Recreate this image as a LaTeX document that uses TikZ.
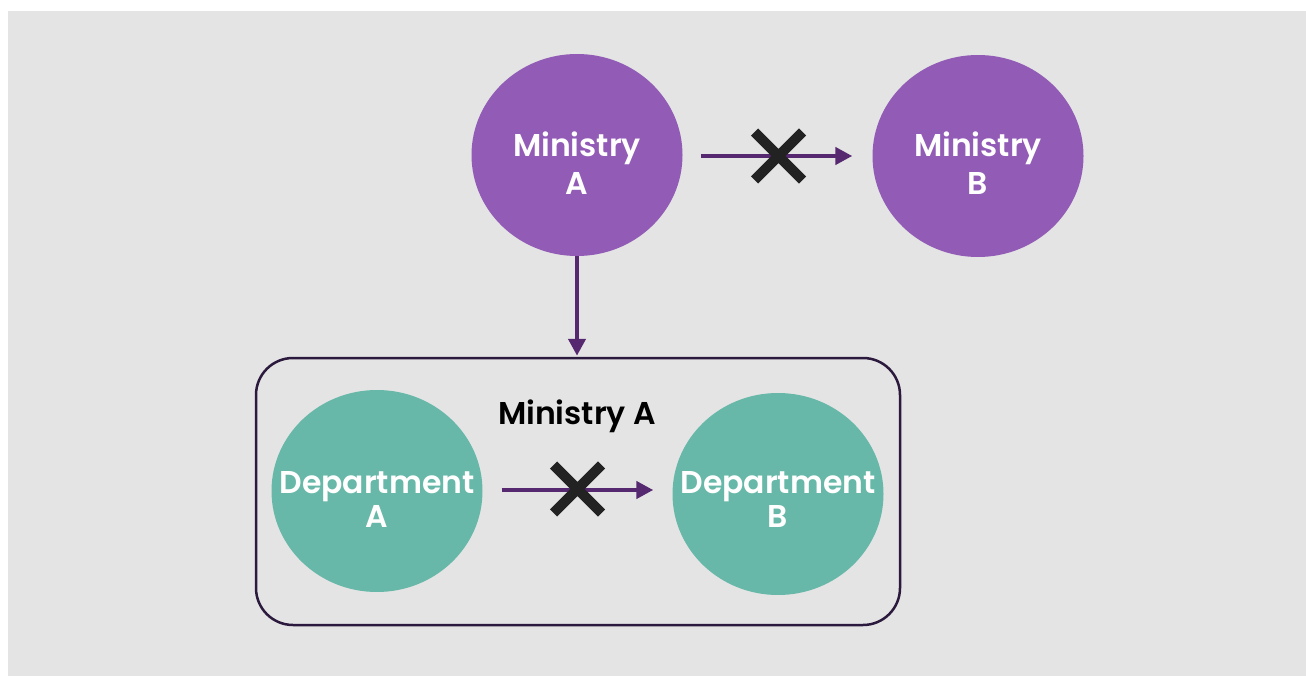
\documentclass[tikz,border=0pt]{standalone}
\usepackage{fontspec}
\setmainfont{Poppins}[BoldFont={Poppins SemiBold}]
\usetikzlibrary{shapes.geometric,arrows.meta}
\definecolor{bggray}{HTML}{E4E4E4}
\definecolor{minpurple}{HTML}{915BB6}
\definecolor{depteal}{HTML}{67B8A8}
\definecolor{arrowpurple}{HTML}{55286F}
\definecolor{boxline}{HTML}{2B1A3D}
\definecolor{xdark}{HTML}{222222}
\tikzset{
  blob/.style={ellipse, inner sep=0pt, minimum width=211pt, minimum height=202pt},
  ministry/.style={blob, fill=minpurple},
  dept/.style={blob, fill=depteal},
  mtext/.style={text=white, font=\fontsize{31.5}{38}\selectfont\bfseries, align=center, inner sep=0pt},
  dtext/.style={text=white, font=\fontsize{31.5}{34}\selectfont\bfseries, align=center, inner sep=0pt},
  conn/.style={draw=arrowpurple, line width=4.8pt, -{Triangle[length=17pt,width=17pt]}},
  xline/.style={draw=xdark, line width=10pt},
  xmark/.pic={\draw[xline] (-24,-24) -- (24,24) (-24,24) -- (24,-24);},
  group/.style={draw=boxline, line width=2.5pt, rounded corners=37pt}
}
\begin{document}
\begin{tikzpicture}[x=1pt,y=-1pt]
\useasboundingbox (0,0) rectangle (1306,676);
\fill[white] (0,0) rectangle (1306,676);
\fill[bggray] (8,11) rectangle (1306,676);
\node[ministry, label={[mtext, yshift=-8pt, name=mat]center:Ministry\\A}] (ma) at (577,155) {};
\node[ministry, label={[mtext, yshift=-7pt, name=mbt]center:Ministry\\B}] (mb) at (978,156) {};
\node[group, minimum width=644pt, minimum height=267pt, inner sep=0pt] (grp) at (578,491.5) {};
\node[font=\fontsize{31.5}{38}\selectfont\bfseries, text=black, anchor=base, inner sep=0pt] (glabel) at (577,424) {Ministry A};
\node[dept, label={[dtext, yshift=-9pt, name=dat]center:Department\\A}] (da) at (377,491) {};
\node[dept, label={[dtext, yshift=-6pt, name=dbt]center:Department\\B}] (db) at (778,494) {};
\draw[conn, shorten <=18pt, shorten >=20pt] ([yshift=-1pt]ma.east) -- ([yshift=-1pt]ma.east -| mb.west) coordinate[pos=0.5] (x1);
\draw[conn, shorten >=1pt] (ma.south) -- (ma.south |- grp.north);
\draw[conn, shorten <=19pt, shorten >=19pt] ([yshift=1pt]da.east) -- ([yshift=1pt]da.east -| db.west) coordinate[pos=0.5] (x2);
\pic at ([xshift=1pt]x1) {xmark};
\pic at ([yshift=1pt]x2) {xmark};
\end{tikzpicture}
\end{document}
